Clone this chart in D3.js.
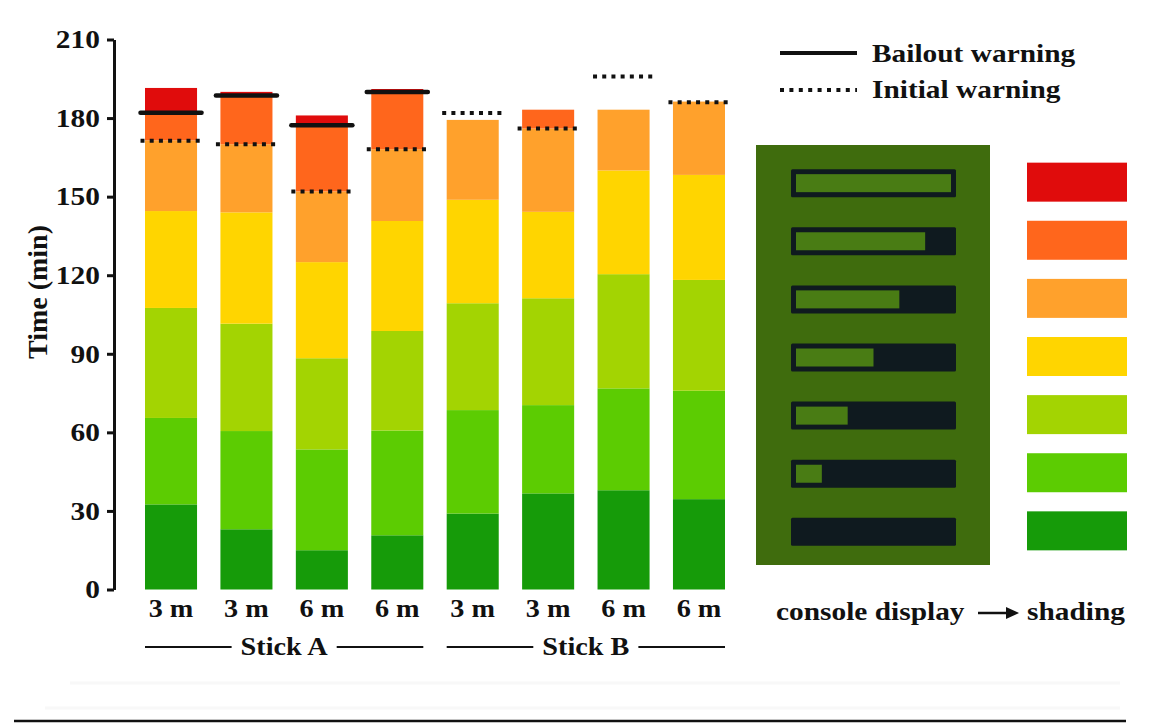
<!DOCTYPE html>
<html>
<head>
<meta charset="utf-8">
<script src="https://cdn.jsdelivr.net/npm/d3@7"></script>
<style>
  html, body { margin: 0; padding: 0; background: #ffffff; }
  svg { display: block; }
  text { font-family: "Liberation Serif", "Times New Roman", serif; font-weight: bold; fill: #111; }
</style>
</head>
<body>
<svg id="chart" width="1156" height="726"></svg>
<script>
// ---------------- data ----------------
const categories = ["3 m", "3 m", "6 m", "6 m", "3 m", "3 m", "6 m", "6 m"];
const groupNames = ["Stick A", "Stick B"];
const groupOfBar = [0, 0, 0, 0, 1, 1, 1, 1];

// time (min) spent in each shading level, bottom to top
const darkGreen   = [32.5, 23,   15,   20.7, 29,   36.7, 37.9, 34.5];
const green       = [33,   37.5, 38.5, 40,   39.5, 33.7, 38.9, 41.4];
const lightGreen  = [42,   41,   34.8, 38,   40.8, 40.8, 43.6, 42.3];
const yellow      = [37,   42.5, 36.7, 42,   39.5, 33,   39.6, 40.1];
const lightOrange = [27,   26,   27,   27.4, 30.5, 31.8, 23.2, 28];
const darkOrange  = [11,   18.5, 25.3, 22,   0,    7.2,  0,    0];
const red         = [9,    1.5,  3.7,  1,    0,    0,    0,    0];

const bailoutWarning = [182, 188.6, 177.3, 190, null, null, null, null];
const initialWarning = [171.3, 170, 152, 168.1, 181.9, 176, 195.9, 186];

const yTicks = [0, 30, 60, 90, 120, 150, 180, 210];

const levelKeys   = ["darkGreen", "green", "lightGreen", "yellow", "lightOrange", "darkOrange", "red"];
const levelColors = ["#169b09", "#5ccc02", "#a3d402", "#ffd500", "#ffa12c", "#ff661c", "#e00c0c"];
// console display: lit segments (out of 6) for each level, top row = red
const consoleLit = [6, 5, 4, 3, 2, 1, 0];

// ---------------- build table ----------------
const series = [darkGreen, green, lightGreen, yellow, lightOrange, darkOrange, red];
const table = categories.map((c, i) => {
  const row = { idx: i, cat: c };
  levelKeys.forEach((k, j) => row[k] = series[j][i]);
  return row;
});

const svg = d3.select("#chart");
const SX = 1.13; // horizontal text stretch seen in the figure

function label(x, y, s, size, anchor) {
  return svg.append("text")
    .attr("transform", `translate(${x},${y}) scale(${SX},1)`)
    .attr("text-anchor", anchor || "middle")
    .style("font-size", size + "px")
    .text(s);
}

// faint background rules near the bottom
[[70, 1120, 683], [45, 1120, 708]].forEach(([a, b, yy]) => {
  svg.append("line").attr("x1", a).attr("x2", b).attr("y1", yy).attr("y2", yy)
    .attr("stroke", "#f8f8f8").attr("stroke-width", 3);
});
svg.append("line").attr("x1", 14).attr("x2", 1126).attr("y1", 721).attr("y2", 721)
  .attr("stroke", "#111").attr("stroke-width", 2.5);

// ---------------- scales ----------------
const x = d3.scaleBand().domain(d3.range(categories.length)).range([145, 725])
  .paddingInner(0.31).paddingOuter(0);
const y = d3.scaleLinear().domain([0, 210]).range([589.5, 39.5]);

// ---------------- stacked bars ----------------
const stack = d3.stack().keys(levelKeys)(table);
svg.append("g").selectAll("g").data(stack).join("g")
  .attr("fill", (d, i) => levelColors[i])
  .selectAll("rect").data(d => d).join("rect")
  .attr("x", d => x(d.data.idx))
  .attr("width", x.bandwidth())
  .attr("y", d => y(d[1]))
  .attr("height", d => Math.max(0, y(d[0]) - y(d[1])));

// warnings
const ext = 4.5;
svg.append("g").selectAll("line").data(initialWarning.map((v, i) => ({ v, i })).filter(d => d.v != null)).join("line")
  .attr("x1", d => x(d.i) - ext).attr("x2", d => x(d.i) + x.bandwidth() + ext)
  .attr("y1", d => y(d.v)).attr("y2", d => y(d.v))
  .attr("stroke", "#111").attr("stroke-width", 4).attr("stroke-dasharray", "4,5.2");
svg.append("g").selectAll("line").data(bailoutWarning.map((v, i) => ({ v, i })).filter(d => d.v != null)).join("line")
  .attr("x1", d => x(d.i) - ext).attr("x2", d => x(d.i) + x.bandwidth() + ext)
  .attr("y1", d => y(d.v)).attr("y2", d => y(d.v))
  .attr("stroke", "#111").attr("stroke-width", 4.5).attr("stroke-linecap", "round");

// ---------------- y axis ----------------
const yAxis = svg.append("g").attr("transform", "translate(114,0)")
  .call(d3.axisLeft(y).tickValues(yTicks).tickSize(7).tickSizeOuter(0).tickPadding(5.5));
yAxis.select(".domain").attr("stroke", "#111").attr("stroke-width", 3);
yAxis.selectAll(".tick line").attr("stroke", "#111").attr("stroke-width", 3);
yAxis.selectAll(".tick text")
  .attr("transform", `scale(${SX},1)`)
  .style("font-family", '"Liberation Serif", serif')
  .style("font-weight", "bold").style("font-size", "26px").attr("fill", "#111");

svg.append("text")
  .attr("transform", "translate(47,292) rotate(-90)")
  .attr("text-anchor", "middle")
  .style("font-size", "28px")
  .text("Time (min)");

// ---------------- x labels ----------------
categories.forEach((c, i) => label(x(i) + x.bandwidth() / 2, 617, c, 25));

groupNames.forEach((g, gi) => {
  const idx = d3.range(categories.length).filter(i => groupOfBar[i] === gi);
  const left = x(idx[0]), right = x(idx[idx.length - 1]) + x.bandwidth();
  const cx = (left + right) / 2;
  const t = label(cx, 655, g, 25);
  const w = t.node().getComputedTextLength() * SX;
  svg.append("line").attr("x1", left).attr("x2", cx - w / 2 - 9).attr("y1", 647).attr("y2", 647)
    .attr("stroke", "#111").attr("stroke-width", 2);
  svg.append("line").attr("x1", cx + w / 2 + 9).attr("x2", right).attr("y1", 647).attr("y2", 647)
    .attr("stroke", "#111").attr("stroke-width", 2);
});

// ---------------- legend ----------------
svg.append("line").attr("x1", 780).attr("x2", 857).attr("y1", 53).attr("y2", 53)
  .attr("stroke", "#111").attr("stroke-width", 4);
label(872, 62, "Bailout warning", 26, "start");
svg.append("line").attr("x1", 780).attr("x2", 857).attr("y1", 90).attr("y2", 90)
  .attr("stroke", "#111").attr("stroke-width", 4).attr("stroke-dasharray", "4,5.4");
label(872, 98, "Initial warning", 26, "start");

// console display panel + shading swatches
const rows = d3.scaleBand().domain(d3.range(7)).range([156, 557]).paddingInner(0.3).paddingOuter(0.1);
const rowOrder = d3.range(7).map(i => 6 - i); // top row = red (level index 6)
svg.append("rect").attr("x", 756).attr("y", 145).attr("width", 234).attr("height", 420)
  .attr("fill", "#3f6c0d");
const barX = 791, barW = 165, inset = 5;
const litScale = d3.scaleLinear().domain([0, 6]).range([0, barW - 2 * inset]);
rowOrder.forEach((lvl, r) => {
  const cy = rows(r) + rows.bandwidth() / 2;
  svg.append("rect").attr("x", barX).attr("y", cy - 13).attr("width", barW).attr("height", 28)
    .attr("fill", "#0f1a1f").attr("rx", 1.5);
  if (consoleLit[r] > 0) {
    svg.append("rect").attr("x", barX + inset).attr("y", cy - 8)
      .attr("width", litScale(consoleLit[r])).attr("height", 18)
      .attr("fill", "#497c14");
  }
  svg.append("rect").attr("x", 1027).attr("y", cy - 19.5).attr("width", 100).attr("height", 39)
    .attr("fill", levelColors[lvl]);
});

label(776, 620, "console display", 26, "start");
svg.append("line").attr("x1", 978).attr("x2", 1008).attr("y1", 613).attr("y2", 613)
  .attr("stroke", "#111").attr("stroke-width", 2.5);
svg.append("path").attr("d", "M1006,607 L1019,613 L1006,619 Z").attr("fill", "#111");
label(1027, 620, "shading", 26, "start");
</script>
</body>
</html>
